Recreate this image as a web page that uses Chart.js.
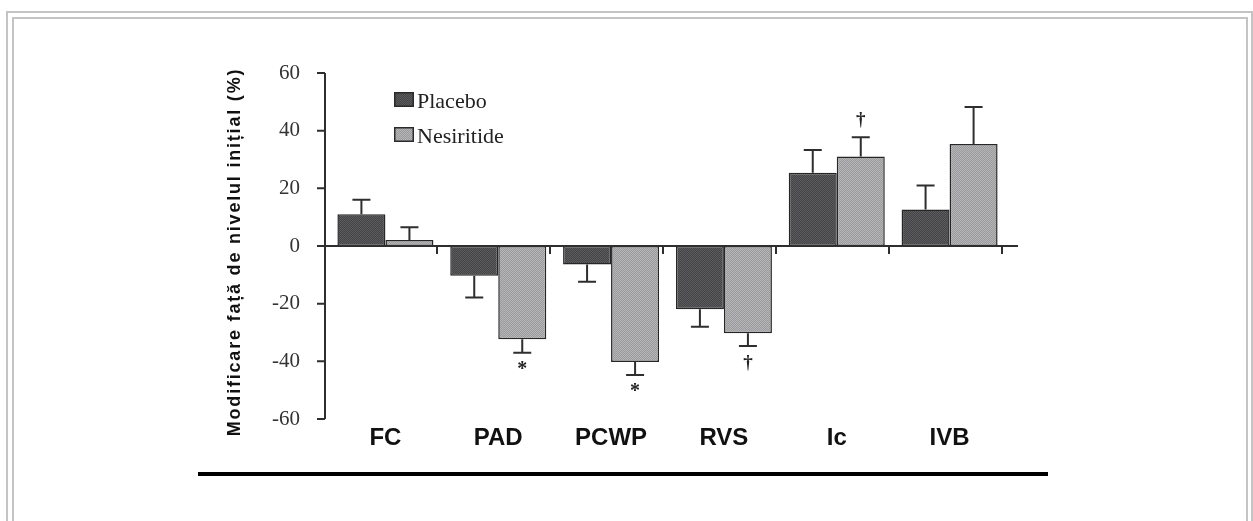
<!DOCTYPE html>
<html><head><meta charset="utf-8">
<script src="https://cdn.jsdelivr.net/npm/chart.js@4.4.1/dist/chart.umd.min.js"></script>
<style>html,body{margin:0;padding:0;background:#fff;overflow:hidden}#wrap{width:1253px;height:521px;position:relative}canvas{display:block}</style>
</head><body><div id="wrap"><canvas id="c" width="1253" height="521"></canvas></div>
<script>
const categories = ['FC', 'PAD', 'PCWP', 'RVS', 'Ic', 'IVB'];
const seriesNames = ['Placebo', 'Nesiritide'];
const placeboValues = [11, -10.3, -6.4, -21.9, 25.4, 12.7];
const placeboErrors = [5, 7.6, 6, 6.1, 7.9, 8.3];
const nesiritideValues = [2.1, -32.3, -40.2, -30.3, 31, 35.4];
const nesiritideErrors = [4.4, 4.7, 4.5, 4.4, 6.7, 12.8];
const nesiritideMarks = ['', '*', '*', '†', '†', ''];
const yTicks = [-60, -40, -20, 0, 20, 40, 60];
const yTitle = 'Modificare față de nivelul inițial (%)';

const canvas = document.getElementById('c');
const ctx0 = canvas.getContext('2d');
function makePattern(c1, c2) {
  const p = document.createElement('canvas');
  p.width = 2; p.height = 2;
  const g = p.getContext('2d');
  g.fillStyle = c1; g.fillRect(0, 0, 2, 2);
  g.fillStyle = c2; g.fillRect(0, 0, 1, 1); g.fillRect(1, 1, 1, 1);
  return ctx0.createPattern(p, 'repeat');
}
const fills = [makePattern('#444448', '#5c5c5c'), makePattern('#9a9a9e', '#b6b6b6')];
const errors = [placeboErrors, nesiritideErrors];
const LINE = '#2e2e2e';
const SERIF = '"Liberation Serif", "Times New Roman", serif';
const SANS = '"Liberation Sans", Arial, sans-serif';

const decor = {
  id: 'decor',
  beforeDraw(chart) {
    const c = chart.ctx;
    c.save();
    c.strokeStyle = '#c4c4c4';
    c.lineWidth = 2;
    c.strokeRect(7, 12, 1245, 700);
    c.strokeRect(13, 18, 1234, 700);
    c.fillStyle = '#000';
    c.fillRect(198, 472, 850, 4);
    c.restore();
  },
  afterDatasetsDraw(chart) {
    const c = chart.ctx;
    const ys = chart.scales.y;
    const y0 = ys.getPixelForValue(0);
    c.save();
    c.strokeStyle = LINE;
    c.fillStyle = LINE;
    c.lineWidth = 2;
    // error bars
    for (let d = 0; d < 2; d++) {
      const meta = chart.getDatasetMeta(d);
      const vals = chart.data.datasets[d].data;
      meta.data.forEach((el, i) => {
        const v = vals[i];
        const e = errors[d][i];
        const end = v >= 0 ? v + e : v - e;
        const yv = ys.getPixelForValue(v);
        const ye = ys.getPixelForValue(end);
        c.beginPath();
        c.moveTo(el.x, yv); c.lineTo(el.x, ye);
        c.moveTo(el.x - 9, ye); c.lineTo(el.x + 9, ye);
        c.stroke();
        if (d === 1 && nesiritideMarks[i]) {
          const m = nesiritideMarks[i];
          const off = m === '*' ? 14 : 17;
          c.font = (m === '*' ? 'bold 20px ' : 'bold 19px ') + SERIF;
          c.textAlign = 'center';
          c.textBaseline = 'middle';
          c.fillStyle = '#222';
          const ty = v >= 0 ? ye - off : ye + off + (m === '*' ? 3 : 0);
          c.fillText(m, el.x, ty);
          c.fillStyle = LINE;
        }
      });
    }
    // y axis line and ticks
    const ax = 325;
    c.beginPath();
    c.moveTo(ax, ys.getPixelForValue(60)); c.lineTo(ax, ys.getPixelForValue(-60));
    yTicks.forEach(t => { const py = ys.getPixelForValue(t); c.moveTo(317, py); c.lineTo(ax, py); });
    c.stroke();
    // zero line
    c.beginPath();
    c.moveTo(317, y0); c.lineTo(1018, y0);
    const meta1 = chart.getDatasetMeta(1);
    meta1.data.forEach(el => {
      const tx = Math.round(el.x + el.width / 2 + 4);
      c.moveTo(tx, y0); c.lineTo(tx, y0 + 8);
    });
    c.stroke();
    // legend
    const lg = [[92, 108], [127, 143]];
    for (let d = 0; d < 2; d++) {
      c.fillStyle = fills[d];
      c.fillRect(394, lg[d][0], 20, 15);
      c.lineWidth = 1.5;
      c.strokeStyle = '#2a2a2a';
      c.strokeRect(394.75, lg[d][0] + 0.75, 18.5, 13.5);
      c.fillStyle = '#222';
      c.font = '22px ' + SERIF;
      c.textAlign = 'left';
      c.textBaseline = 'alphabetic';
      c.fillText(seriesNames[d], 417, lg[d][1]);
    }
    // y title
    c.translate(235, 252);
    c.rotate(-Math.PI / 2);
    c.font = 'bold 18px ' + SANS;
    try { c.letterSpacing = '1.8px'; } catch (e) {}
    c.fillStyle = '#111';
    c.textAlign = 'center';
    c.textBaseline = 'middle';
    c.fillText(yTitle, 0, 0);
    c.restore();
  }
};

new Chart(canvas, {
  type: 'bar',
  data: {
    labels: categories,
    datasets: [
      { label: seriesNames[0], data: placeboValues, backgroundColor: fills[0], borderColor: '#262626', borderWidth: 1.5, borderSkipped: false, barPercentage: 1, categoryPercentage: 0.851 },
      { label: seriesNames[1], data: nesiritideValues, backgroundColor: fills[1], borderColor: '#262626', borderWidth: 1.5, borderSkipped: false, barPercentage: 1, categoryPercentage: 0.851 }
    ]
  },
  options: {
    responsive: false,
    animation: false,
    devicePixelRatio: 1,
    layout: { padding: { left: 0, right: 247, top: 73, bottom: 62 } },
    plugins: { legend: { display: false }, tooltip: { enabled: false } },
    scales: {
      x: {
        offset: true,
        grid: { display: false, drawTicks: false },
        border: { display: false },
        ticks: { padding: 5, color: '#111', maxRotation: 0, autoSkip: false, font: { family: SANS, size: 24, weight: 'bold' } },
        afterFit(s) { s.height = 40; }
      },
      y: {
        min: -60, max: 60,
        afterBuildTicks(s) { s.ticks = yTicks.map(v => ({ value: v })); },
        grid: { display: false, drawTicks: false },
        border: { display: false },
        ticks: { padding: 29, color: '#333', font: { family: SERIF, size: 21 } },
        afterFit(s) { s.width = 329; }
      }
    }
  },
  plugins: [decor]
});
</script>
</body></html>
